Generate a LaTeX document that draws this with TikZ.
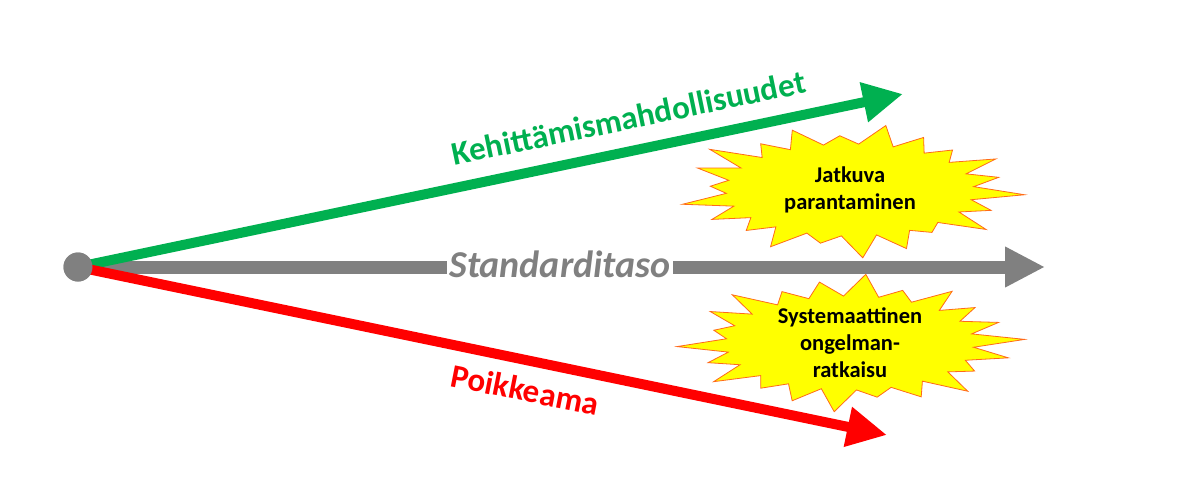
\documentclass[tikz,border=0pt]{standalone}
\usepackage{fontspec}
\setmainfont{Carlito}
\usetikzlibrary{arrows.meta}
\definecolor{levelgray}{HTML}{808080}
\definecolor{chancegreen}{HTML}{00B050}
\definecolor{devred}{HTML}{FF0000}
\definecolor{burstyellow}{HTML}{FFFF00}
\definecolor{burstedge}{HTML}{FF6A1A}

\begin{document}
\begin{tikzpicture}[x=1pt,y=-1pt]

    \tikzset{
      trend/.style={
        line width=10pt,
        -{Triangle[length=40pt,width=38pt]},
      },
      burstline/.style={
        fill=burstyellow,
        draw=burstedge,
        line width=0.8pt,
        line join=miter,
      },
      bursttext/.style={
        align=center,
        font=\bfseries\fontsize{22.5}{27}\selectfont,
      },
      slogan/.style={
        font=\bfseries\fontsize{33}{40}\selectfont,
        anchor=base,
      },
    }
    \useasboundingbox (0,0) rectangle (1200,483);
    % the two bursts
    \coordinate (burstA) at (850,190);
    \coordinate (burstB) at (850,343);
    \begin{scope}[shift={(burstA)}]
      \draw[burstline] (4:175 and 68)
        \foreach \f [count=\i] in {.86,.97,.78,.92,1,.8,.95,.84,.9,.98,.8,.93,1,.85,.94,.8,.97,.88,.83,.95,.87} {
          -- ({4+(\i-0.5)*360/22}:124 and 46) -- ({4+\i*360/22}:{175*\f} and {68*\f})
        } -- ({4+21.5*360/22}:124 and 46) -- cycle;
    \end{scope}
    \begin{scope}[shift={(burstB)}]
      \draw[burstline] (-3:175 and 69)
        \foreach \f [count=\i] in {.93,.82,.97,.88,.8,1,.9,.83,.96,.86,.99,.8,.92,.97,.84,.9,1,.82,.95,.88,.9} {
          -- ({-3+(\i-0.5)*360/22}:124 and 47) -- ({-3+\i*360/22}:{175*\f} and {69*\f})
        } -- ({-3+21.5*360/22}:124 and 47) -- cycle;
    \end{scope}
    \node[bursttext] (improve) at (burstA) {Jatkuva\\parantaminen};
    \node[bursttext] (solve) at (burstB) {Systemaattinen\\ongelman-\\ratkaisu};
    % arrows out of the start point
    \node[circle, fill=levelgray, minimum size=29pt, inner sep=0pt] (start) at (78,267) {};
    \coordinate (up) at (903,94);
    \coordinate (level) at (1045,267);
    \coordinate (down) at (887,435);
    \draw[trend, levelgray, line width=13pt] (start.center) -- (level);
    \draw[trend, chancegreen] (start.center) -- (up);
    \draw[trend, devred] (start.center) -- (down);
    \fill[levelgray] (start) circle (14.5);
    % labels
    \node[slogan, text=chancegreen, rotate=11.7] (chances) at (631,129) {Kehittämismahdollisuudet};
    \node[slogan, text=devred, rotate=-11.2] (deviation) at (523,401) {Poikkeama};
    \node[font=\bfseries\itshape\fontsize{38}{44}\selectfont, text=levelgray, fill=white,
      inner sep=2pt, anchor=base] (standard) at (560,277) {Standarditaso};

\end{tikzpicture}
\end{document}
